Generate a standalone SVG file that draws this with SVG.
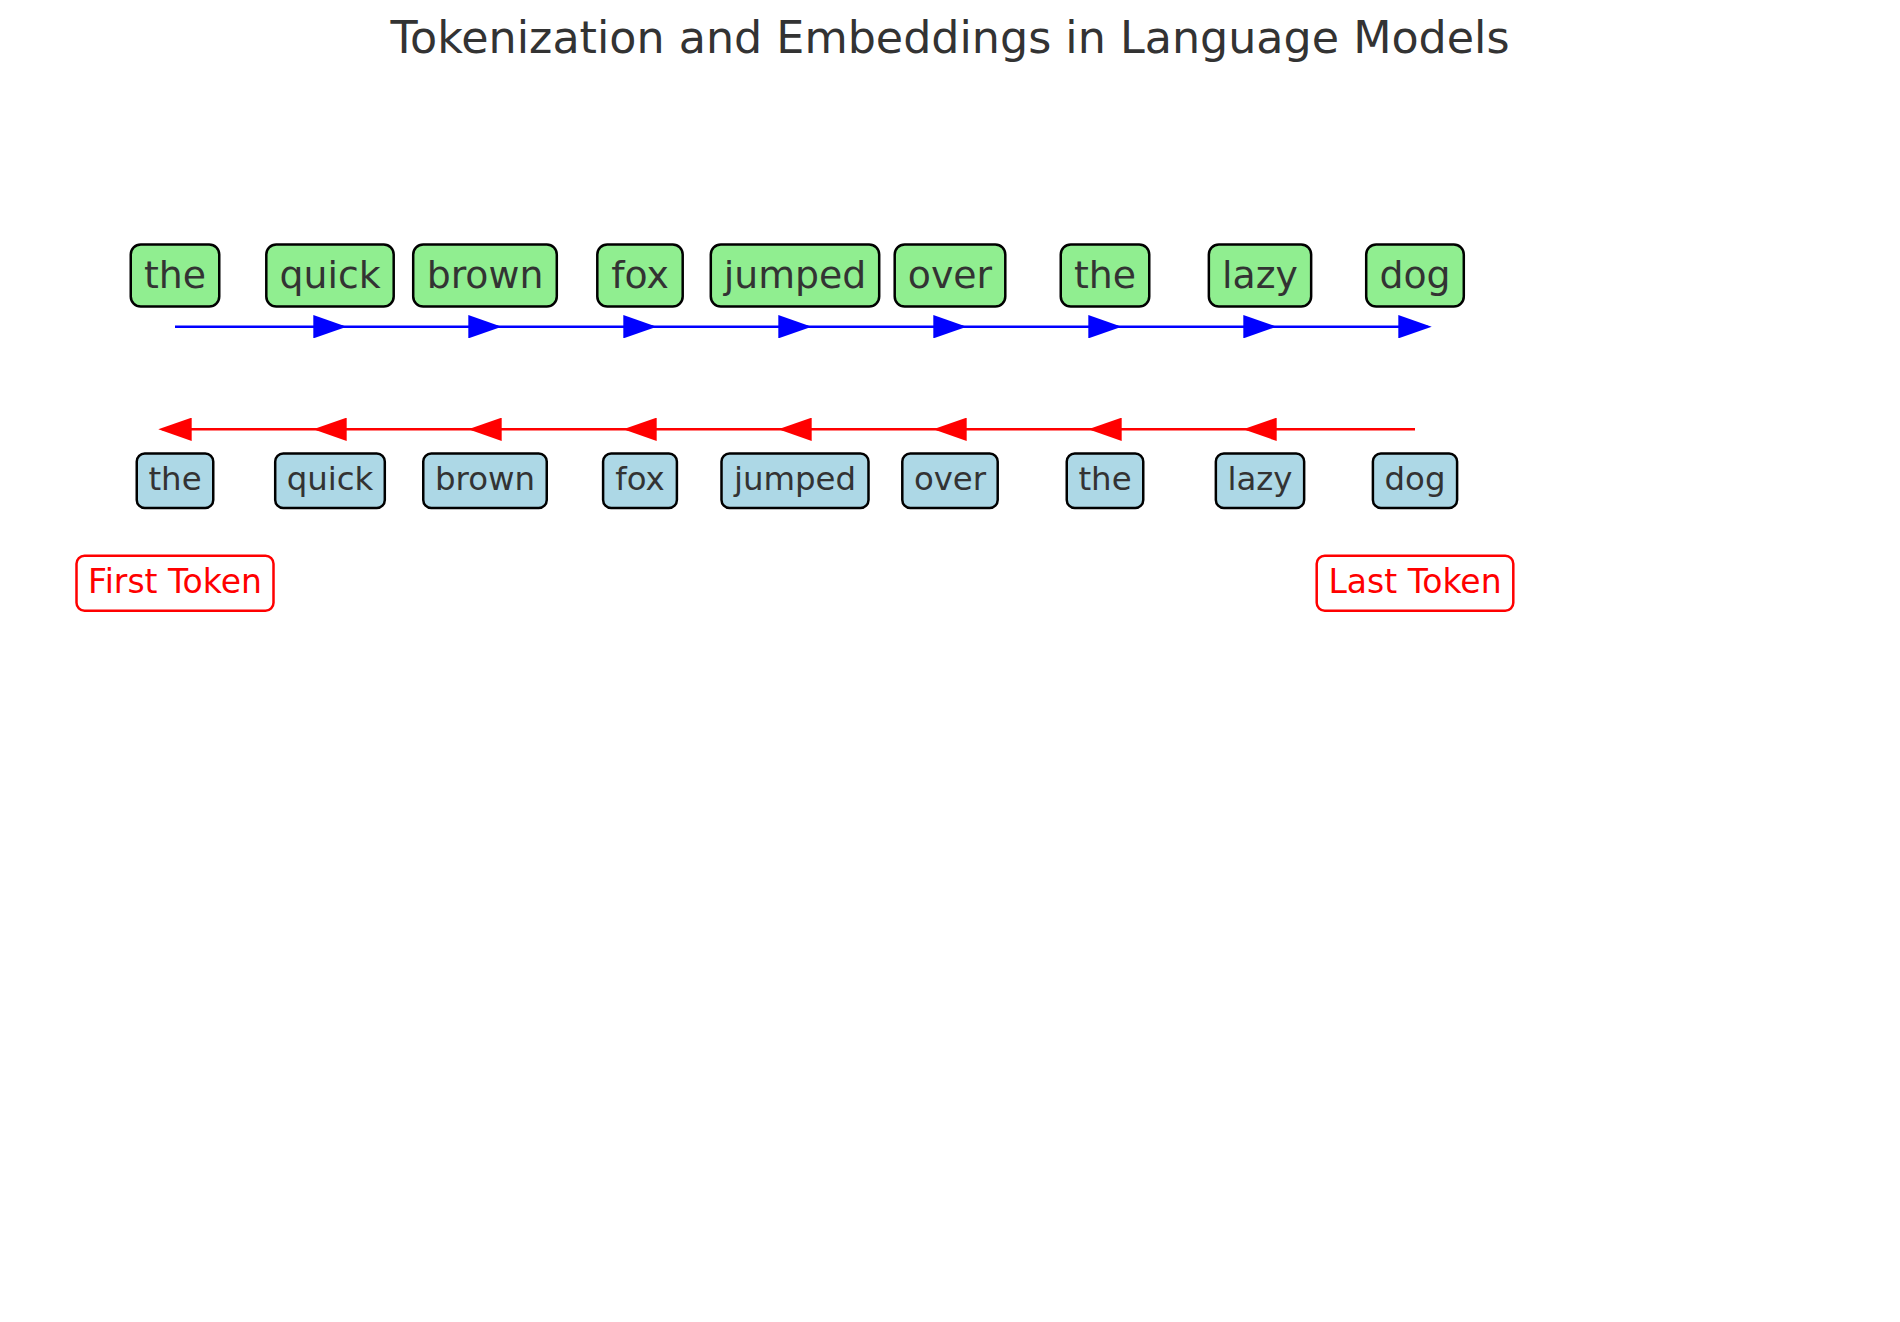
<svg xmlns="http://www.w3.org/2000/svg" width="1900" height="1322" viewBox="0 0 1900 1322">
<style>
text{font-family:"DejaVu Sans","Liberation Sans",sans-serif;text-anchor:middle}
.title{font-size:44.4px;fill:#333333}
.g rect{fill:#90EE90;stroke:#000;stroke-width:2.5}
.g text{font-size:37.8px;fill:#333333}
.b rect{fill:#ADD8E6;stroke:#000;stroke-width:2.5}
.b text{font-size:32.4px;fill:#333333}
.lab rect{fill:#fff;stroke:#FF0000;stroke-width:2.5}
.lab text{font-size:33px;fill:#FF0000}
.fw{stroke:#0000FF;stroke-width:2.5;fill:none;marker-end:url(#hb)}
.bw{stroke:#FF0000;stroke-width:2.5;fill:none;marker-end:url(#hr)}
</style>
<defs>
<marker id="hb" markerUnits="userSpaceOnUse" viewBox="0 0 33.4 23.4" refX="29.4" refY="11.7" markerWidth="33.4" markerHeight="23.4" orient="auto"><path d="M0,0 L33.4,11.7 L0,23.4 Z" fill="#0000FF"/></marker>
<marker id="hr" markerUnits="userSpaceOnUse" viewBox="0 0 33.4 23.4" refX="29.4" refY="11.7" markerWidth="33.4" markerHeight="23.4" orient="auto"><path d="M0,0 L33.4,11.7 L0,23.4 Z" fill="#FF0000"/></marker>
</defs>
<rect width="1900" height="1322" fill="#fff"/>
<text class="title" x="950" y="53">Tokenization and Embeddings in Language Models</text>
<g id="connectors">
<path class="fw" d="M175,326.7 H342.7"/>
<path class="fw" d="M330,326.7 H497.7"/>
<path class="fw" d="M485,326.7 H652.7"/>
<path class="fw" d="M640,326.7 H807.7"/>
<path class="fw" d="M795,326.7 H962.7"/>
<path class="fw" d="M950,326.7 H1117.7"/>
<path class="fw" d="M1105,326.7 H1272.7"/>
<path class="fw" d="M1260,326.7 H1427.7"/>
<path class="bw" d="M1415,429.3 H1247.3"/>
<path class="bw" d="M1260,429.3 H1092.3"/>
<path class="bw" d="M1105,429.3 H937.3"/>
<path class="bw" d="M950,429.3 H782.3"/>
<path class="bw" d="M795,429.3 H627.3"/>
<path class="bw" d="M640,429.3 H472.3"/>
<path class="bw" d="M485,429.3 H317.3"/>
<path class="bw" d="M330,429.3 H162.3"/>
</g>
<g id="tok-the-1" class="g"><rect x="130.75" y="244.5" width="88.5" height="62" rx="10"/><text x="175" y="288.3">the</text></g>
<g id="tok-quick" class="g"><rect x="266.3" y="244.5" width="127.4" height="62" rx="10"/><text x="330" y="288.3">quick</text></g>
<g id="tok-brown" class="g"><rect x="413.2" y="244.5" width="143.6" height="62" rx="10"/><text x="485" y="288.3">brown</text></g>
<g id="tok-fox" class="g"><rect x="597.3" y="244.5" width="85.4" height="62" rx="10"/><text x="640" y="288.3">fox</text></g>
<g id="tok-jumped" class="g"><rect x="710.8" y="244.5" width="168.4" height="62" rx="10"/><text x="795" y="288.3">jumped</text></g>
<g id="tok-over" class="g"><rect x="894.7" y="244.5" width="110.6" height="62" rx="10"/><text x="950" y="288.3">over</text></g>
<g id="tok-the-2" class="g"><rect x="1060.75" y="244.5" width="88.5" height="62" rx="10"/><text x="1105" y="288.3">the</text></g>
<g id="tok-lazy" class="g"><rect x="1208.85" y="244.5" width="102.3" height="62" rx="10"/><text x="1260" y="288.3">lazy</text></g>
<g id="tok-dog" class="g"><rect x="1366.2" y="244.5" width="97.6" height="62" rx="10"/><text x="1415" y="288.3">dog</text></g>
<g id="emb-the-1" class="b"><rect x="136.75" y="453.5" width="76.5" height="54.5" rx="8"/><text x="175" y="490">the</text></g>
<g id="emb-quick" class="b"><rect x="275.2" y="453.5" width="109.6" height="54.5" rx="8"/><text x="330" y="490">quick</text></g>
<g id="emb-brown" class="b"><rect x="423.25" y="453.5" width="123.5" height="54.5" rx="8"/><text x="485" y="490">brown</text></g>
<g id="emb-fox" class="b"><rect x="603.1" y="453.5" width="73.8" height="54.5" rx="8"/><text x="640" y="490">fox</text></g>
<g id="emb-jumped" class="b"><rect x="721.5" y="453.5" width="147" height="54.5" rx="8"/><text x="795" y="490">jumped</text></g>
<g id="emb-over" class="b"><rect x="902.3" y="453.5" width="95.4" height="54.5" rx="8"/><text x="950" y="490">over</text></g>
<g id="emb-the-2" class="b"><rect x="1066.75" y="453.5" width="76.5" height="54.5" rx="8"/><text x="1105" y="490">the</text></g>
<g id="emb-lazy" class="b"><rect x="1215.85" y="453.5" width="88.3" height="54.5" rx="8"/><text x="1260" y="490">lazy</text></g>
<g id="emb-dog" class="b"><rect x="1372.9" y="453.5" width="84.2" height="54.5" rx="8"/><text x="1415" y="490">dog</text></g>
<g id="label-first" class="lab"><rect x="76.5" y="555.7" width="197" height="55" rx="8"/><text x="175" y="592.7">First Token</text></g>
<g id="label-last" class="lab"><rect x="1316.7" y="555.7" width="196.6" height="55" rx="8"/><text x="1415" y="592.7">Last Token</text></g>
</svg>
